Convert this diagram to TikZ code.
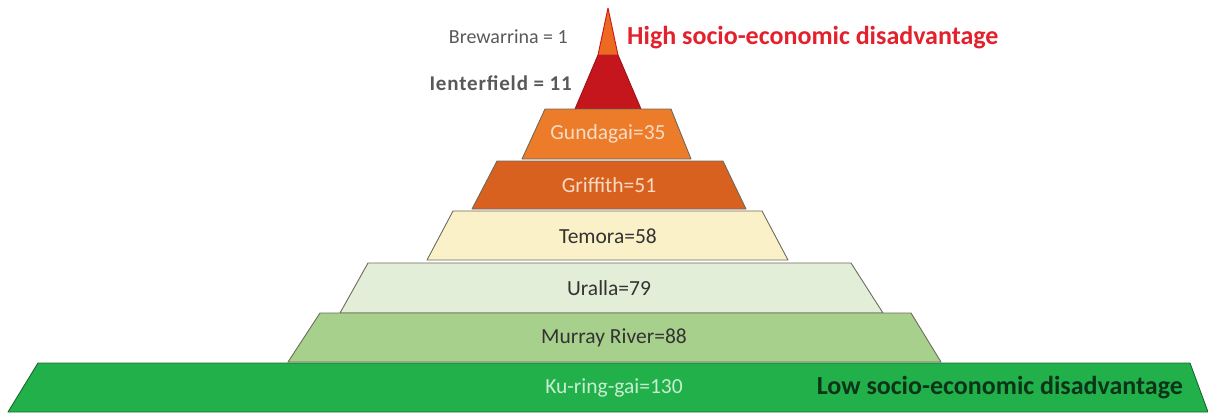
\documentclass[tikz,border=0pt]{standalone}
\usepackage{fontspec}
\setmainfont{Carlito}
\definecolor{tipred}{HTML}{C4161C}
\definecolor{tiporange}{HTML}{EE6A22}
\definecolor{gundagai}{HTML}{EC7C2A}
\definecolor{griffith}{HTML}{D8611F}
\definecolor{temora}{HTML}{FBF1C8}
\definecolor{uralla}{HTML}{E2EED8}
\definecolor{murray}{HTML}{A8D08D}
\definecolor{kuringgai}{HTML}{22B04B}
\definecolor{tieredge}{HTML}{6E6A5C}
\definecolor{labeldark}{HTML}{333333}
\definecolor{labellight}{HTML}{F6DCC4}
\definecolor{labelgreen}{HTML}{C9EDD2}
\definecolor{highred}{HTML}{E3202B}
\definecolor{lowgreen}{HTML}{0C3418}
\begin{document}
\begin{tikzpicture}[x=1pt,y=-1pt,
  tier/.style={draw=tieredge,line width=0.9pt,line join=round},
  lbl/.style={font=\fontsize{21.5}{23}\selectfont,text=labeldark,inner sep=0pt},
  side/.style={font=\fontsize{20}{22}\selectfont,text=black!65,inner sep=0pt},
  caption/.style={font=\bfseries\fontsize{26}{28}\selectfont,inner sep=0pt}]
\useasboundingbox (0,0) rectangle (1208,416);

% pyramid tiers, top to bottom
\draw[tier,draw=tipred!80!black,fill=tipred] (598,55) -- (618,55) -- (641,109) -- (575,109) -- cycle;
\draw[tier,draw=tipred,fill=tiporange] (608,8) -- (618,55) -- (598,55) -- cycle;
\draw[tier,fill=gundagai] (545,109) -- (671,109) -- (691,159) -- (522,159) -- cycle;
\draw[tier,fill=griffith] (497,161) -- (723,161) -- (746,209) -- (472,209) -- cycle;
\draw[tier,fill=temora] (453,211) -- (762,211) -- (788,260) -- (427,260) -- cycle;
\draw[tier,fill=uralla] (368,263) -- (851,263) -- (883,313) -- (340,313) -- cycle;
\draw[tier,fill=murray] (320,313) -- (911,313) -- (941,362) -- (288,362) -- cycle;
\draw[tier,draw=kuringgai!60!black,fill=kuringgai] (38,363) -- (1190,363) -- (1208,412) -- (8,412) -- cycle;

% tier labels
\node[lbl,text=labellight] (gun) at (608,134) {Gundagai=35};
\node[lbl,text=labellight] (gri) at (609,185) {Griffith=51};
\node[lbl] (tem) at (608,236) {Temora=58};
\node[lbl] (ura) at (609,288) {Uralla=79};
\node[lbl] (mur) at (614,338) {Murray River=88};
\node[lbl,text=labelgreen] (kur) at (614,388) {Ku-ring-gai=130};

% labels beside the tip
\node[side,anchor=east] (bre) at (568,37) {Brewarrina = 1};
\node[side,anchor=east,font=\bfseries\fontsize{21}{23}\selectfont\addfontfeature{LetterSpace=4}] (ten) at (572,83) {Ienterfield = 11};

% scale captions
\node[caption,text=highred,anchor=west] (high) at (627,38) {High socio-economic disadvantage};
\node[caption,text=lowgreen,anchor=east] (low) at (1183,388) {Low socio-economic disadvantage};
\end{tikzpicture}
\end{document}
